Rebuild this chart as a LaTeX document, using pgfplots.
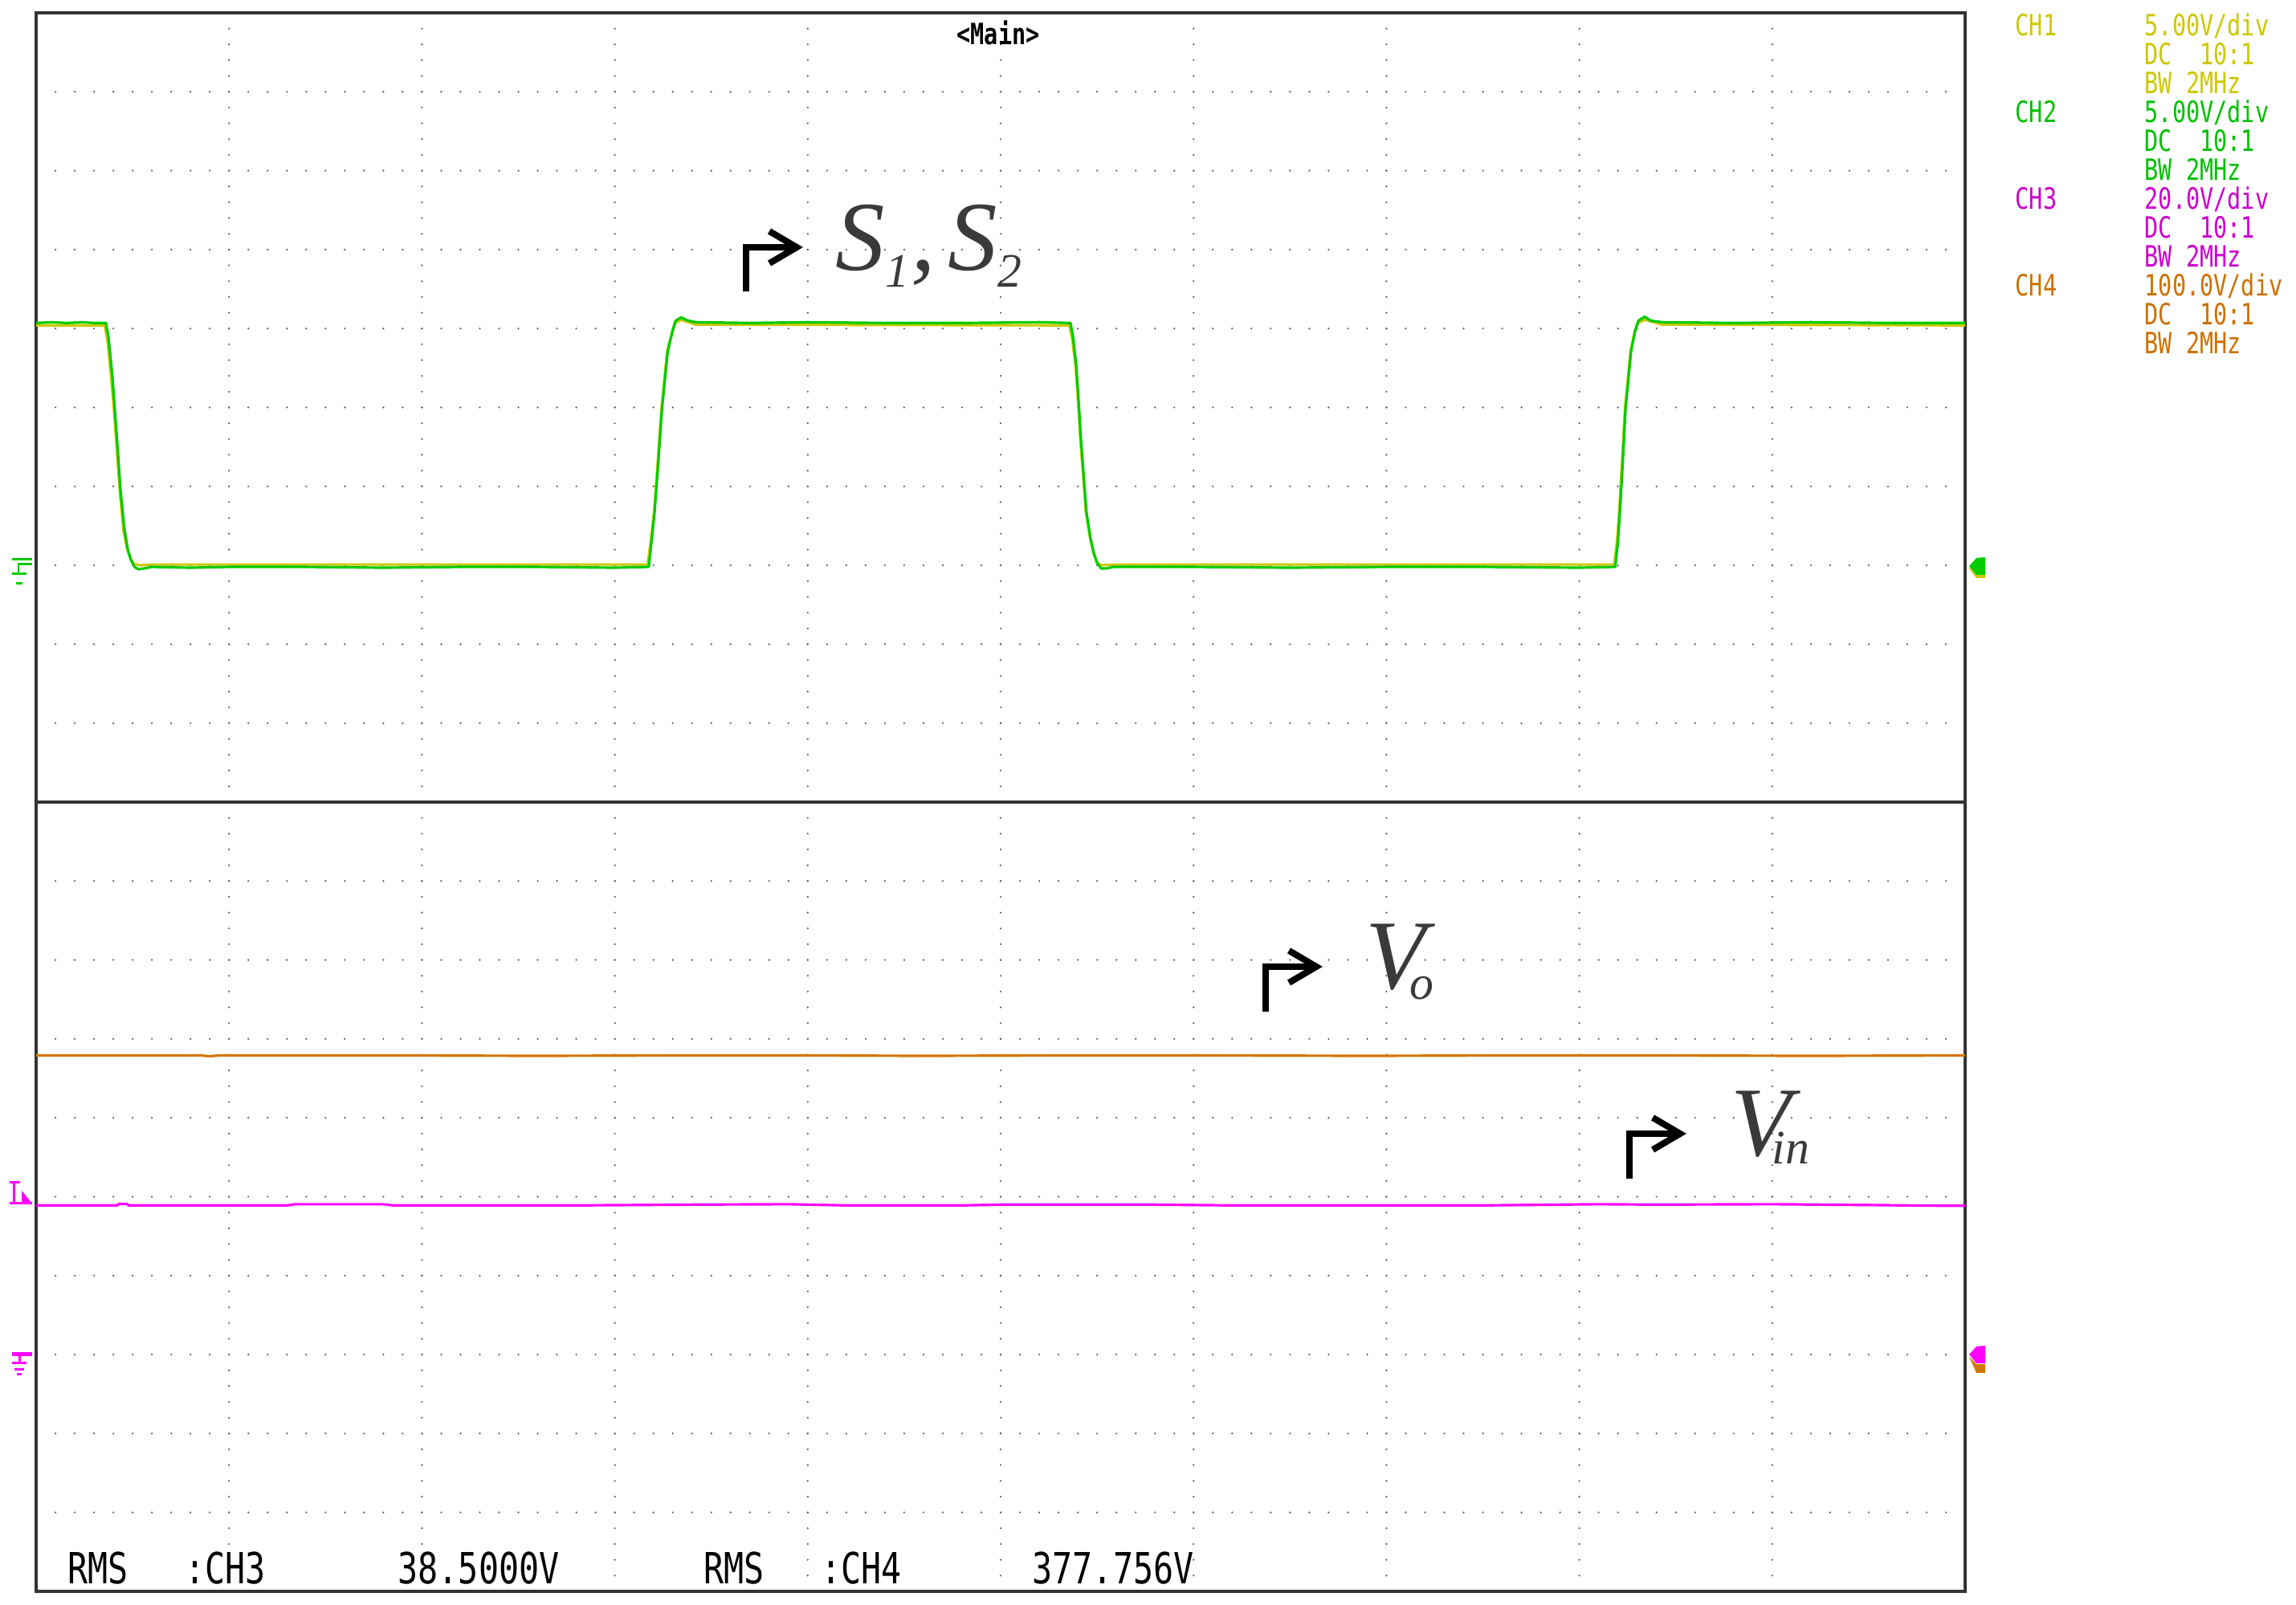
\documentclass[border=0pt]{standalone}
\usepackage{fontspec}
\setmainfont{Liberation Serif}
\newfontfamily\oscfont[FakeStretch=0.78]{DejaVu Sans Mono}
\usepackage{pgfplots}
\pgfplotsset{compat=1.18}
\usepackage{pgfplotstable}

\definecolor{tracegreen}{RGB}{0,204,0}
\definecolor{traceyellow}{RGB}{204,200,0}
\definecolor{tracemag}{RGB}{255,0,255}
\definecolor{traceorange}{RGB}{210,120,0}
\definecolor{txtyellow}{RGB}{204,200,0}
\definecolor{txtgreen}{RGB}{0,192,0}
\definecolor{txtmag}{RGB}{204,0,204}
\definecolor{txtorange}{RGB}{204,112,0}
\definecolor{lblgray}{RGB}{58,58,58}

% CH2 (green) gate signal, top panel, in divisions
\pgfplotstableread{
x y
0.000 6.07
0.080 6.08
0.160 6.07
0.240 6.08
0.300 6.07
0.362 6.07
0.375 5.89
0.395 5.40
0.408 4.97
0.425 4.40
0.437 3.96
0.458 3.45
0.475 3.20
0.491 3.07
0.510 2.98
0.529 2.95
0.560 2.96
0.600 2.98
0.800 2.97
1.000 2.98
1.400 2.98
1.800 2.97
2.200 2.98
2.600 2.98
3.000 2.97
3.176 2.98
3.190 3.30
3.206 3.67
3.225 4.30
3.244 4.97
3.274 5.71
3.300 5.98
3.315 6.10
3.344 6.14
3.380 6.10
3.419 6.08
3.700 6.07
4.000 6.08
4.400 6.07
4.800 6.07
5.200 6.08
5.362 6.07
5.375 5.90
5.392 5.53
5.405 5.05
5.416 4.60
5.445 3.67
5.465 3.35
5.483 3.15
5.500 3.03
5.521 2.96
5.550 2.96
5.583 2.98
6.000 2.98
6.500 2.97
7.000 2.98
7.500 2.98
8.000 2.97
8.186 2.98
8.200 3.30
8.210 3.67
8.225 4.30
8.239 4.97
8.268 5.71
8.290 5.98
8.306 6.10
8.339 6.15
8.370 6.10
8.430 6.08
8.800 6.07
9.200 6.08
9.600 6.07
10.000 6.07
}\chtwo

% CH1 (yellow), nearly on top of CH2
\pgfplotstableread{
x y
0.000 6.04
0.355 6.04
0.370 5.85
0.390 5.35
0.404 4.95
0.420 4.40
0.433 3.96
0.452 3.45
0.470 3.22
0.487 3.10
0.505 3.02
0.540 3.00
0.600 3.01
3.170 3.01
3.186 3.30
3.203 3.67
3.222 4.30
3.241 4.97
3.271 5.71
3.298 5.96
3.312 6.07
3.344 6.11
3.419 6.05
5.356 6.04
5.370 5.88
5.388 5.53
5.402 5.05
5.413 4.60
5.442 3.67
5.462 3.37
5.480 3.17
5.497 3.05
5.518 3.00
5.583 3.01
8.180 3.01
8.195 3.30
8.206 3.67
8.221 4.30
8.236 4.97
8.265 5.71
8.287 5.96
8.303 6.07
8.339 6.11
8.430 6.05
10.000 6.04
}\chone

% CH4 (orange) output voltage, bottom panel
\pgfplotstableread{
x y
0.000 6.79
0.850 6.79
0.900 6.78
0.950 6.79
1.900 6.79
2.600 6.785
3.300 6.79
4.000 6.79
4.600 6.785
5.300 6.79
6.100 6.79
6.900 6.785
7.600 6.79
8.400 6.79
9.200 6.785
10.000 6.79
}\chfour

% CH3 (magenta) input voltage, bottom panel
\pgfplotstableread{
x y
0.000 4.890
0.420 4.890
0.430 4.910
0.470 4.910
0.480 4.890
1.300 4.890
1.340 4.905
1.800 4.905
1.850 4.890
2.800 4.890
3.400 4.900
3.900 4.905
4.200 4.890
4.800 4.890
5.000 4.900
5.800 4.900
6.200 4.890
7.500 4.890
8.100 4.905
8.400 4.900
9.000 4.905
9.500 4.895
9.900 4.885
10.000 4.885
}\chthree

\pgfplotsset{
  panel/.style={
    scale only axis, width=24.02cm, height=9.83cm,
    xmin=0, xmax=10, ymin=0, ymax=10,
    xtick={1,...,9}, ytick={1,...,9},
    xticklabels={}, yticklabels={},
    major tick length=0pt,
    grid=major,
    major x grid style={black!65, line width=0.7pt, line cap=round, dash pattern=on 0pt off 0.1966cm},
    major y grid style={black!65, line width=0.7pt, line cap=round, dash pattern=on 0pt off 0.2402cm},
    axis line style={black!80, line width=0.9pt},
    anchor=origin,
  },
  trace/.style={line width=0.9pt, line join=round},
}

\begin{document}
\begin{tikzpicture}
\path[use as bounding box] (0,0) rectangle (28.59,19.98);

% top panel: CH1 / CH2
\begin{axis}[panel, at={(0.45cm,9.99cm)}]
  \addplot[trace, traceyellow] table[x=x, y=y] {\chone};
  \addplot[trace, tracegreen] table[x=x, y=y] {\chtwo};
\end{axis}

% bottom panel: CH3 / CH4
\begin{axis}[panel, at={(0.45cm,0.16cm)}]
  \addplot[trace, traceorange] table[x=x, y=y] {\chfour};
  \addplot[trace, tracemag] table[x=x, y=y] {\chthree};
\end{axis}

% ground markers, left
\begin{scope}[tracegreen, line width=0.03cm]
  \draw (0.15,13.01) -- (0.40,13.01);
  \draw (0.40,12.95) -- (0.23,12.95) -- (0.23,12.83);
  \draw (0.15,12.83) -- (0.33,12.83);
  \draw (0.20,12.71) -- (0.28,12.71);
\end{scope}
\begin{scope}[tracemag, line width=0.03cm]
  \draw[line width=0.05cm] (0.15,3.11) -- (0.40,3.11);
  \draw (0.24,3.11) -- (0.24,3.00);
  \draw (0.15,3.00) -- (0.33,3.00);
  \draw (0.18,2.93) -- (0.30,2.93);
  \draw (0.21,2.86) -- (0.27,2.86);
  % trigger marker
  \draw (0.12,5.25) -- (0.25,5.25);
  \draw (0.18,5.25) -- (0.18,5.00);
  \draw (0.12,4.99) -- (0.40,4.99);
  \fill (0.27,5.15) -- (0.40,4.99) -- (0.27,4.99) -- cycle;
\end{scope}

% ground markers, right
\fill[traceyellow] (24.52,12.90) -- (24.61,12.99) -- (24.72,12.99) -- (24.72,12.78) -- (24.61,12.78) -- cycle;
\fill[tracegreen] (24.52,12.93) -- (24.61,13.03) -- (24.72,13.04) -- (24.72,12.82) -- (24.61,12.82) -- cycle;
\fill[traceorange] (24.52,3.08) -- (24.61,2.99) -- (24.72,2.99) -- (24.72,2.88) -- (24.61,2.88) -- cycle;
\fill[tracemag] (24.52,3.11) -- (24.61,3.21) -- (24.72,3.22) -- (24.72,3.00) -- (24.61,3.00) -- cycle;

% header
\node[anchor=base, inner sep=0, font=\oscfont\bfseries\fontsize{10.4}{12}\selectfont] at (12.43,19.42) {<Main>};

% channel settings
\begin{scope}[every node/.style={anchor=base west, inner sep=0, font=\oscfont\fontsize{10.4}{12}\selectfont}]
  \node[txtyellow] at (25.09,19.53) {CH1};
  \node[txtyellow] at (26.70,19.53) {5.00V/div};
  \node[txtyellow] at (26.70,19.17) {DC\ \ 10:1};
  \node[txtyellow] at (26.70,18.81) {BW\ 2MHz};
  \node[txtgreen] at (25.09,18.45) {CH2};
  \node[txtgreen] at (26.70,18.45) {5.00V/div};
  \node[txtgreen] at (26.70,18.09) {DC\ \ 10:1};
  \node[txtgreen] at (26.70,17.73) {BW\ 2MHz};
  \node[txtmag] at (25.09,17.37) {CH3};
  \node[txtmag] at (26.70,17.37) {20.0V/div};
  \node[txtmag] at (26.70,17.01) {DC\ \ 10:1};
  \node[txtmag] at (26.70,16.65) {BW\ 2MHz};
  \node[txtorange] at (25.09,16.29) {CH4};
  \node[txtorange] at (26.70,16.29) {100.0V/div};
  \node[txtorange] at (26.70,15.93) {DC\ \ 10:1};
  \node[txtorange] at (26.70,15.57) {BW\ 2MHz};
\end{scope}

% measurements
\begin{scope}[every node/.style={anchor=base west, inner sep=0, font=\oscfont\fontsize{15.2}{18}\selectfont}]
  \node at (0.84,0.26) {RMS};
  \node at (2.30,0.26) {:CH3};
  \node at (4.95,0.26) {38.5000V};
  \node at (8.76,0.26) {RMS};
  \node at (10.22,0.26) {:CH4};
  \node at (12.85,0.26) {377.756V};
\end{scope}

% signal labels
\begin{scope}[line width=0.08cm, line join=miter]
  \draw (9.29,16.35) |- (9.92,16.90);
  \draw (9.58,17.10) -- (9.92,16.90) -- (9.58,16.70);
  \draw (15.76,7.38) |- (16.39,7.94);
  \draw (16.05,8.14) -- (16.39,7.94) -- (16.05,7.74);
  \draw (20.29,5.30) |- (20.92,5.86);
  \draw (20.58,6.06) -- (20.92,5.86) -- (20.58,5.66);
\end{scope}
\begin{scope}[every node/.style={anchor=base west, inner sep=0, text=lblgray, font=\fontsize{35}{40}\selectfont\itshape}]
  \node at (10.40,16.61) {S\lower0.21cm\hbox{\fontsize{17}{20}\selectfont 1}\kern0.02cm,\hspace{0.16cm}S\lower0.21cm\hbox{\fontsize{17}{20}\selectfont 2}};
  \node at (17.00,7.66) {V\kern-0.20cm\lower0.13cm\hbox{\fontsize{17}{20}\selectfont o}};
  \node at (21.55,5.58) {V\kern-0.24cm\lower0.10cm\hbox{\fontsize{17}{20}\selectfont in}};
\end{scope}
\end{tikzpicture}
\end{document}
